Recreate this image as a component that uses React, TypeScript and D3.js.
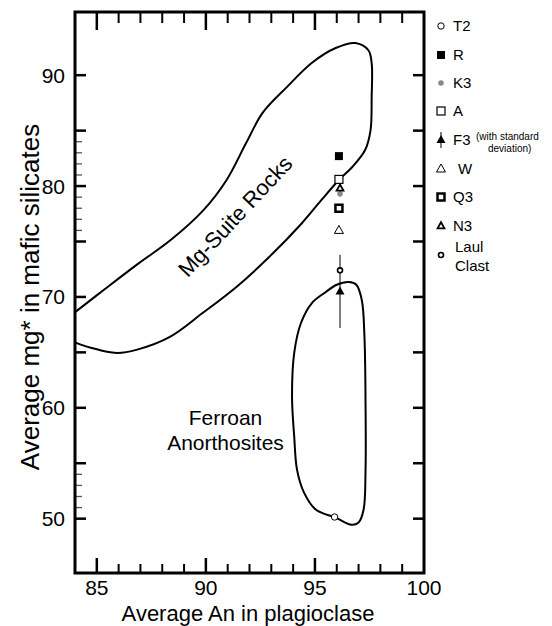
import React from "react";
import * as d3 from "d3";

// Mg-Suite Rocks field outline (An, mg*)
const mgSuiteAn = [83.6, 84.05, 85.3, 86.9, 88.4, 89.9, 90.95, 91.85, 92.6, 93.7, 94.85, 95.95, 96.85, 97.45, 97.6, 97.6, 97.55, 97.3, 96.7, 96.1, 95.3, 94.4, 92.9, 91.4, 89.85, 88.35, 86.85, 85.95, 85.05, 84.05, 83.6];
const mgSuiteMg = [68.0, 68.7, 70.6, 73.0, 75.15, 77.85, 80.55, 83.9, 86.6, 88.9, 91.1, 92.45, 92.9, 92.25, 91.1, 88.0, 85.05, 83.25, 81.7, 80.55, 78.75, 76.65, 73.6, 70.9, 68.55, 66.4, 65.25, 64.95, 65.25, 65.85, 66.3];

// Ferroan Anorthosites field outline
const ferroanAn = [96.0, 96.55, 96.9, 97.15, 97.27, 97.32, 97.32, 97.23, 97.0, 96.68, 95.95, 95.05, 94.5, 94.18, 94.05, 93.95, 94.05, 94.36, 94.86, 95.5];
const ferroanMg = [71.1, 71.35, 71.1, 69.7, 66.4, 60.45, 54.4, 50.8, 49.65, 49.45, 50.1, 50.8, 52.35, 54.4, 57.4, 61.0, 64.95, 67.65, 69.45, 70.45];

// samples
const sampleNames = ["T2", "R", "K3", "A", "F3", "W", "Q3", "N3", "Laul"];
const sampleAn = [95.9, 96.1, 96.15, 96.1, 96.15, 96.1, 96.1, 96.15, 96.15];
const sampleMg = [50.15, 82.7, 79.3, 80.6, 70.5, 76.0, 78.0, 79.8, 72.4];
const f3StdDev = 3.3;

const xTicks = d3.range(85, 100);
const xLabels = [85, 90, 95, 100];
const yMajor = [50, 55, 60, 65, 70, 75, 80, 85, 90];
const yMinor = [51, 52, 53, 54, 76, 77, 78, 79, 81, 82, 83, 84];
const yLabels = [50, 60, 70, 80, 90];

const font = "'Liberation Sans', Arial, sans-serif";

const Marker = ({ kind, x, y }: { kind: string; x: number; y: number }) => {
  const tri = (s: number) => `M${x},${y - s}L${x + s * 0.9},${y + s * 0.6}L${x - s * 0.9},${y + s * 0.6}Z`;
  switch (kind) {
    case "T2":
      return <circle cx={x} cy={y} r={3.2} fill="#fff" stroke="#000" strokeWidth={1} />;
    case "R":
      return <rect x={x - 4} y={y - 4} width={8} height={8} fill="#000" />;
    case "K3":
      return <circle cx={x} cy={y} r={2.8} fill="#888" />;
    case "A":
      return <rect x={x - 4} y={y - 4} width={8} height={8} fill="#fff" stroke="#000" strokeWidth={1.2} />;
    case "F3":
      return <path d={tri(5)} fill="#000" />;
    case "W":
      return <path d={tri(5)} fill="#fff" stroke="#000" strokeWidth={1} />;
    case "Q3":
      return <rect x={x - 3.5} y={y - 3.5} width={7} height={7} fill="#fff" stroke="#000" strokeWidth={2.5} />;
    case "N3":
      return <path d={tri(3.8)} fill="#fff" stroke="#000" strokeWidth={1.8} />;
    case "Laul":
      return <circle cx={x} cy={y} r={2.5} fill="#fff" stroke="#000" strokeWidth={1.6} />;
  }
  return null;
};

export default function App() {
  const width = 552;
  const height = 626;
  const x = d3.scaleLinear().domain([84, 100]).range([75, 424]);
  const y = d3.scaleLinear().domain([45.1, 95.7]).range([573, 12]);

  const outline = d3
    .line<[number, number]>()
    .x((d) => x(d[0]))
    .y((d) => y(d[1]))
    .curve(d3.curveCatmullRomClosed.alpha(0.5));

  const mgPts = mgSuiteAn.map((a, i) => [a, mgSuiteMg[i]] as [number, number]);
  const fePts = ferroanAn.map((a, i) => [a, ferroanMg[i]] as [number, number]);

  const [x0, x1] = x.range();
  const [y0, y1] = y.range();
  const f3 = sampleNames.indexOf("F3");

  const legendY = [26, 55, 83, 111, 140, 169, 197, 226, 255];

  return (
    <svg width={width} height={height} style={{ position: "absolute", left: 0, top: 0 }} fontFamily={font}>
      <rect width={width} height={height} fill="#fff" />
      <defs>
        <clipPath id="plot">
          <rect x={x0} y={y1} width={x1 - x0} height={y0 - y1} />
        </clipPath>
      </defs>

      {/* fields */}
      <g clipPath="url(#plot)" fill="none" stroke="#000" strokeWidth={2}>
        <path d={outline(mgPts) || ""} />
        <path d={outline(fePts) || ""} />
      </g>

      <text
        transform={`translate(${x(91.6)},${y(76.8)}) rotate(-47)`}
        textAnchor="middle"
        fontSize={22}
      >
        Mg-Suite Rocks
      </text>
      <text x={x(90.9)} y={y(58.45)} textAnchor="middle" fontSize={21}>
        Ferroan
      </text>
      <text x={x(90.9)} y={y(56.2)} textAnchor="middle" fontSize={21}>
        Anorthosites
      </text>

      {/* F3 std dev */}
      <line
        x1={x(sampleAn[f3])}
        x2={x(sampleAn[f3])}
        y1={y(sampleMg[f3] - f3StdDev)}
        y2={y(sampleMg[f3] + f3StdDev)}
        stroke="#000"
        strokeWidth={1}
      />
      {sampleNames.map((n, i) => (
        <Marker key={n} kind={n} x={x(sampleAn[i])} y={y(sampleMg[i])} />
      ))}

      {/* ticks */}
      <g stroke="#000">
        {xTicks.map((t) => {
          const major = t % 5 === 0;
          return (
            <g key={t} strokeWidth={major ? 2.5 : 2}>
              <line x1={x(t)} x2={x(t)} y1={y0} y2={y0 - (major ? 15 : 9)} />
              <line x1={x(t)} x2={x(t)} y1={y1} y2={y1 + (major ? 18 : 11)} />
            </g>
          );
        })}
        {yMajor.map((t) => (
          <g key={t} strokeWidth={2.5}>
            <line x1={x0} x2={x0 + 11} y1={y(t)} y2={y(t)} />
            <line x1={x1} x2={x1 - 11} y1={y(t)} y2={y(t)} />
          </g>
        ))}
        {yMinor.map((t) => (
          <line key={t} x1={x0} x2={x0 + 7} y1={y(t)} y2={y(t)} strokeWidth={1.3} stroke="#555" />
        ))}
      </g>

      {/* frame */}
      <rect x={x0} y={y1} width={x1 - x0} height={y0 - y1} fill="none" stroke="#000" strokeWidth={3} />

      {/* tick labels */}
      {xLabels.map((t) => (
        <text key={t} x={x(t)} y={595} textAnchor="middle" fontSize={21}>
          {t}
        </text>
      ))}
      {yLabels.map((t) => (
        <text key={t} x={65} y={y(t)} dy="0.36em" textAnchor="end" fontSize={21}>
          {t}
        </text>
      ))}

      <text x={248} y={621} textAnchor="middle" fontSize={22}>
        Average An in plagioclase
      </text>
      <text transform={`translate(39,297) rotate(-90)`} textAnchor="middle" fontSize={26}>
        Average mg* in mafic silicates
      </text>

      {/* legend */}
      <g fontSize={15}>
        {sampleNames.map((n, i) => (
          <g key={n}>
            {n === "F3" && <line x1={441} x2={441} y1={legendY[i] - 8} y2={legendY[i] + 8} stroke="#000" strokeWidth={1} />}
            <Marker kind={n} x={441} y={legendY[i]} />
            {n === "Laul" ? (
              <>
                <text x={455} y={legendY[i] - 3}>Laul</text>
                <text x={455} y={legendY[i] + 16}>Clast</text>
              </>
            ) : (
              <text x={n === "W" ? 458 : 453} y={legendY[i]} dy="0.35em">
                {n}
              </text>
            )}
            {n === "F3" && (
              <>
                <text x={476} y={legendY[i]} fontSize={10}>(with standard</text>
                <text x={488} y={legendY[i] + 12} fontSize={10}>deviation)</text>
              </>
            )}
          </g>
        ))}
      </g>
    </svg>
  );
}
